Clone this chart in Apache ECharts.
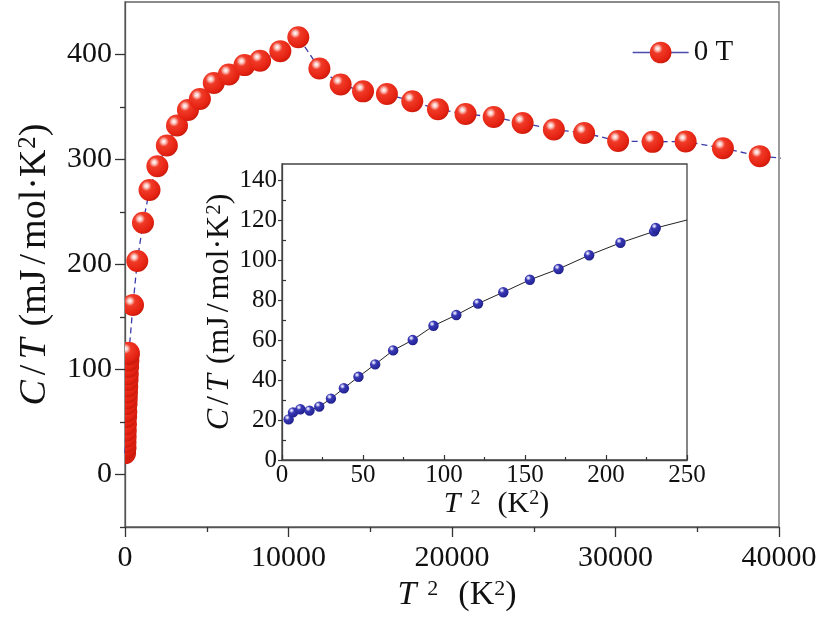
<!DOCTYPE html>
<html><head><meta charset="utf-8">
<script src="https://cdn.jsdelivr.net/npm/echarts@6/dist/echarts.min.js"></script>
<style>html,body{margin:0;padding:0;background:#fff}#c{width:821px;height:621px}</style>
</head><body><div id="c"></div>
<script>
// ---- data ----
// low-temperature points (inset; also the cluster at the origin of the main panel)
const lowT2 = [4.1, 6.8, 11.3, 17.0, 23.0, 30.2, 38.2, 47.2, 57.5, 68.6, 80.7, 93.5, 107.6, 121.0, 136.6, 153.0, 170.7, 189.6, 208.9, 229.7, 230.7];
const lowCT = [20.3, 23.8, 25.4, 24.7, 26.7, 30.7, 35.9, 41.6, 47.8, 54.8, 60.0, 67.1, 72.5, 78.2, 83.9, 90.1, 95.5, 102.4, 108.6, 114.3, 116.0];
// higher-temperature points (main panel)
const highT2 = [490, 750, 1100, 1500, 1980, 2560, 3180, 3850, 4580, 5430, 6350, 7310, 8260, 9500, 10600, 11890, 13190, 14560, 16020, 17570, 19140, 20830, 22550, 24320, 26230, 28080, 30160, 32270, 34290, 36570, 38820, 41000];
const highCT = [161.5, 203.3, 239.7, 271.0, 293.5, 313.3, 332.3, 347.2, 357.6, 372.8, 381.0, 389.9, 394.0, 403.2, 416.5, 386.7, 371.5, 364.9, 362.3, 355.4, 347.8, 343.4, 340.5, 334.8, 328.5, 325.3, 317.7, 316.8, 317.1, 310.8, 303.2, 300.0];
// end of the inset guide line
const insetLineEndT2 = [250];
const insetLineEndCT = [120];
// tick labels
const mainXTicks = [0, 10000, 20000, 30000, 40000];
const mainYTicks = [0, 100, 200, 300, 400];
const mainYMinor = [-50, 50, 150, 250, 350];
const insetXTicks = [0, 50, 100, 150, 200, 250];
const insetYTicks = [0, 20, 40, 60, 80, 100, 120, 140];
const insetYMinor = [10, 30, 50, 70, 90, 110, 130];
const seriesName = '0 T';

// ---- build ----
const FONT = 'Liberation Serif';
const zip = (a, b) => a.map((v, i) => [v, b[i]]);
const mainData = zip(lowT2, lowCT).concat(zip(highT2, highCT));
const insetData = zip(lowT2, lowCT);
const insetLine = insetData.concat(zip(insetLineEndT2, insetLineEndCT));

const redStops = [
  {offset: 0, color: '#ffffff'}, {offset: 0.13, color: '#fbc9c3'},
  {offset: 0.32, color: '#f03a27'}, {offset: 0.8, color: '#e52212'}, {offset: 1, color: '#c9190b'}];
const blueStops = [
  {offset: 0, color: '#ffffff'}, {offset: 0.15, color: '#b9b9ee'},
  {offset: 0.35, color: '#3838b4'}, {offset: 0.85, color: '#26269a'}, {offset: 1, color: '#1a1a78'}];
const grad = s => new echarts.graphic.RadialGradient(0.36, 0.32, 0.72, s);

function ball(stops, r) {
  return function (params, api) {
    const p = api.coord([api.value(0), api.value(1)]);
    return {type: 'circle', shape: {cx: p[0], cy: p[1], r: r}, style: {fill: grad(stops)}};
  };
}

const axisCol = '#555';
const tickCol = '#333';
const labelStyle = (size, margin) => ({fontFamily: FONT, fontSize: size, color: '#111', margin: margin, formatter: v => String(v)});

function xTitleStyle(fs, shift) {
  const sup = Math.round(fs * 0.65);
  const pb = Math.round(fs * 0.3);
  return {fontFamily: FONT, fontSize: fs, color: '#111', padding: [0, 0, 0, shift], rich: {
    i: {fontFamily: FONT, fontSize: fs, fontStyle: 'italic', color: '#111'},
    n: {fontFamily: FONT, fontSize: fs, color: '#111'},
    s: {fontFamily: FONT, fontSize: sup, color: '#111', verticalAlign: 'top', padding: [0, 0, pb, Math.round(fs * 0.32)]},
    s2: {fontFamily: FONT, fontSize: sup, color: '#111', verticalAlign: 'top', padding: [0, 0, pb, 0]},
    g: {fontFamily: FONT, fontSize: fs, width: Math.round(fs * 0.58)}
  }};
}
function yTitleStyle(fs) {
  const sup = Math.round(fs * 0.65);
  const pb = Math.round(fs * 0.3);
  const p = Math.round(fs * 0.12);
  return {fontFamily: FONT, fontSize: fs, color: '#111', rich: {
    i: {fontFamily: FONT, fontSize: fs, fontStyle: 'italic', color: '#111'},
    n: {fontFamily: FONT, fontSize: fs, color: '#111'},
    sl: {fontFamily: FONT, fontSize: fs, color: '#111', padding: [0, p, 0, p]},
    s2: {fontFamily: FONT, fontSize: sup, color: '#111', verticalAlign: 'top', padding: [0, 0, pb, 1]},
    g: {fontFamily: FONT, fontSize: fs, width: Math.round(fs * 0.32)}
  }};
}
const xTitle = '{i|T}{s|2}{g| }{n|(K}{s2|2}{n|)}';
const yTitle = '{i|C}{sl|/}{i|T}{g| }{n|(mJ}{sl|/}{n|mol·K}{s2|2}{n|)}';

const option = {
  animation: false,
  backgroundColor: '#fff',
  legend: {
    data: [seriesName], left: 632, top: 38, padding: 0, itemWidth: 56, itemHeight: 27, itemGap: 5,
    textStyle: {fontFamily: FONT, fontSize: 29, color: '#111'},
    lineStyle: {type: 'solid', width: 1.3, color: '#4a4ab0'}
  },
  grid: [
    {left: 125, top: 2, width: 654, height: 525, show: true, borderColor: '#666', borderWidth: 1.3, backgroundColor: 'transparent'},
    {left: 282, top: 164, width: 405, height: 296, show: true, borderColor: '#444', borderWidth: 1.3, backgroundColor: '#fff', z: 5}
  ],
  xAxis: [
    {gridIndex: 0, type: 'value', min: 0, max: 40000, interval: 10000, position: 'bottom',
     axisLine: {show: true, onZero: false, lineStyle: {color: axisCol, width: 1.3}},
     axisTick: {show: true, length: 10, lineStyle: {color: tickCol, width: 1.3}},
     minorTick: {show: true, splitNumber: 2, length: 5, lineStyle: {color: tickCol, width: 1.3}},
     splitLine: {show: false},
     axisLabel: Object.assign(labelStyle(30, 16), {customValues: mainXTicks}),
     name: xTitle, nameLocation: 'middle', nameGap: 46, nameTextStyle: xTitleStyle(34, 10)},
    {gridIndex: 1, type: 'value', min: 0, max: 250, interval: 50, position: 'bottom', z: 6,
     axisLine: {show: true, onZero: false, lineStyle: {color: '#444', width: 1.3}},
     axisTick: {show: true, inside: true, length: 5, lineStyle: {color: tickCol, width: 1.2}},
     minorTick: {show: true, splitNumber: 2, length: 3, lineStyle: {color: tickCol, width: 1.2}},
     splitLine: {show: false},
     axisLabel: Object.assign(labelStyle(25, 3), {customValues: insetXTicks}),
     name: xTitle, nameLocation: 'middle', nameGap: 23, nameTextStyle: xTitleStyle(30, 24)}
  ],
  yAxis: [
    {gridIndex: 0, type: 'value', min: -50, max: 450, position: 'left',
     axisLine: {show: true, onZero: false, lineStyle: {color: axisCol, width: 1.3}},
     axisTick: {show: true, length: 10, customValues: mainYTicks, lineStyle: {color: tickCol, width: 1.3}},
     splitLine: {show: false},
     axisLabel: Object.assign(labelStyle(30, 13), {customValues: mainYTicks}),
     name: yTitle, nameLocation: 'middle', nameGap: 71, nameTextStyle: yTitleStyle(38)},
    {gridIndex: 0, type: 'value', min: -50, max: 450, position: 'left',
     axisLine: {show: false, onZero: false}, axisLabel: {show: false}, splitLine: {show: false},
     axisTick: {show: true, length: 5, customValues: mainYMinor, lineStyle: {color: tickCol, width: 1.3}}},
    {gridIndex: 1, type: 'value', min: 0, max: 148, position: 'left', z: 6,
     axisLine: {show: true, onZero: false, lineStyle: {color: '#444', width: 1.3}},
     axisTick: {show: true, length: 4, customValues: insetYTicks, lineStyle: {color: tickCol, width: 1.2}},
     splitLine: {show: false},
     axisLabel: Object.assign(labelStyle(25, 5), {customValues: insetYTicks}),
     name: yTitle, nameLocation: 'middle', nameGap: 46, nameTextStyle: yTitleStyle(32)},
    {gridIndex: 1, type: 'value', min: 0, max: 148, position: 'left', z: 6,
     axisLine: {show: false, onZero: false}, axisLabel: {show: false}, splitLine: {show: false},
     axisTick: {show: true, inside: true, length: 4, customValues: insetYMinor, lineStyle: {color: tickCol, width: 1.2}}}
  ],
  series: [
    {name: seriesName, type: 'line', xAxisIndex: 0, yAxisIndex: 0, data: mainData, symbol: 'none', clip: true,
     lineStyle: {color: '#3a3aa8', width: 1.3, type: [6, 4]}, itemStyle: {color: grad(redStops)}, z: 2},
    {name: 'balls', type: 'custom', xAxisIndex: 0, yAxisIndex: 0, data: mainData, clip: true,
     encode: {x: 0, y: 1}, renderItem: ball(redStops, 11), z: 3},
    {name: 'inset line', type: 'line', xAxisIndex: 1, yAxisIndex: 2, data: insetLine, symbol: 'none',
     lineStyle: {color: '#222', width: 1}, z: 7},
    {name: 'inset balls', type: 'custom', xAxisIndex: 1, yAxisIndex: 2, data: insetData, clip: true,
     encode: {x: 0, y: 1}, renderItem: ball(blueStops, 5.2), z: 8}
  ]
};
const chart = echarts.init(document.getElementById('c'), null, {renderer: 'canvas'});
chart.setOption(option);
</script></body></html>
